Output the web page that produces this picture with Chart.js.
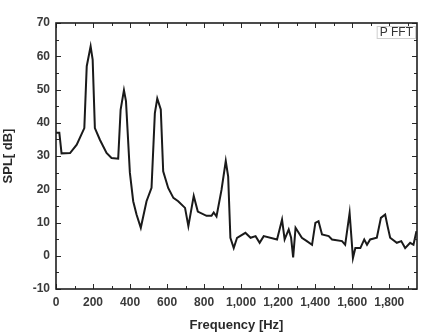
<!DOCTYPE html>
<html>
<head>
<meta charset="utf-8">
<script src="https://cdn.jsdelivr.net/npm/chart.js@4.4.1/dist/chart.umd.min.js"></script>
<style>
  html, body { margin: 0; padding: 0; background: #ffffff; }
  #wrap { width: 428px; height: 336px; }
</style>
</head>
<body>
<div id="wrap"><canvas id="c" width="428" height="336"></canvas></div>
<script>
// ---- Data ----
const frequencyHz = [0, 18, 30, 76, 112, 153, 166, 187, 198, 210, 237, 273, 300, 336, 349, 367, 378, 399, 417, 435,
  458, 489, 516, 534, 547, 566, 579, 606, 634, 660, 697, 715, 744, 766, 813, 840, 852, 867, 894, 917,
  930, 942, 960, 978, 1023, 1051, 1078, 1100, 1122, 1194, 1221, 1235, 1257, 1270, 1281, 1294, 1328, 1355, 1383, 1401,
  1418, 1437, 1473, 1491, 1545, 1562, 1586, 1604, 1617, 1644, 1665, 1680, 1697, 1733, 1755, 1778, 1791, 1805, 1841, 1865,
  1886, 1913, 1931, 1947];
const splDb = [37, 37, 30.8, 30.9, 33.4, 38.4, 57, 63, 59, 38.4, 34.9, 30.9, 29.4, 29.2, 43.9, 49.8, 46.5, 25, 16.4, 12.4,
  8.4, 16.4, 20.4, 42.9, 47.3, 44, 25.4, 20.4, 17.4, 16.4, 14.4, 8.9, 18, 13.3, 12, 12, 13, 11.8, 19.8, 28.5,
  23.8, 5.4, 2.3, 5.4, 6.9, 5.4, 5.9, 3.9, 5.9, 4.9, 10.9, 4.9, 7.9, 5.4, -0.5, 8.4, 5.4, 4.4, 3.3, 9.9,
  10.4, 6.4, 5.9, 4.9, 4.4, 3.3, 12.9, -0.7, 2.3, 2.3, 4.9, 3.3, 4.9, 5.4, 11.4, 12.4, 8.9, 5.4, 3.9, 4.4,
  2.3, 3.9, 3.3, 7.4];
const xTickValues = [0, 200, 400, 600, 800, 1000, 1200, 1400, 1600, 1800];
const xMinorValues = [100, 300, 500, 700, 900, 1100, 1300, 1500, 1700, 1900];
const yTickValues = [-10, 0, 10, 20, 30, 40, 50, 60, 70];
const yMinorValues = [-5, 5, 15, 25, 35, 45, 55, 65];
const seriesLabel = 'P FFT';
const xTitle = 'Frequency [Hz]';
const yTitle = 'SPL[ dB]';

const points = frequencyHz.map((f, i) => ({ x: f, y: splDb[i] }));

// Frame, inward ticks, and the "P FFT" label box
const framePlugin = {
  id: 'frame',
  afterDatasetsDraw(chart) {
    const { ctx, chartArea: a, scales: { x, y } } = chart;
    ctx.save();
    ctx.strokeStyle = '#2a2a2a';
    ctx.lineWidth = 1;
    const tick = (vals, len) => {
      vals.forEach(v => {
        const px = Math.round(x.getPixelForValue(v)) + 0.5;
        ctx.beginPath();
        ctx.moveTo(px, a.bottom); ctx.lineTo(px, a.bottom - len);
        ctx.moveTo(px, a.top); ctx.lineTo(px, a.top + len);
        ctx.stroke();
      });
    };
    const tickY = (vals, len) => {
      vals.forEach(v => {
        const py = Math.round(y.getPixelForValue(v)) + 0.5;
        ctx.beginPath();
        ctx.moveTo(a.left, py); ctx.lineTo(a.left + len, py);
        ctx.moveTo(a.right, py); ctx.lineTo(a.right - len, py);
        ctx.stroke();
      });
    };
    tick(xTickValues, 5); tick(xMinorValues, 3);
    tickY(yTickValues, 5); tickY(yMinorValues, 3);

    ctx.lineWidth = 1.6;
    ctx.strokeStyle = '#1e1e1e';
    ctx.strokeRect(a.left, a.top, a.right - a.left, a.bottom - a.top);

    // label box
    ctx.font = '12px "Liberation Sans", Arial, sans-serif';
    const tw = ctx.measureText(seriesLabel).width;
    const bw = tw + 6, bh = 13;
    const bx = a.right - bw - 1, by = a.top + 3;
    ctx.fillStyle = '#ffffff';
    ctx.fillRect(bx, by, bw, bh);
    ctx.lineWidth = 1;
    ctx.strokeStyle = '#cfcfcf';
    ctx.strokeRect(bx + 0.5, by + 0.5, bw - 1, bh - 1);
    ctx.fillStyle = '#333333';
    ctx.textBaseline = 'middle';
    ctx.textAlign = 'left';
    ctx.fillText(seriesLabel, bx + 3, by + bh / 2 + 0.5);
    ctx.restore();
  }
};

new Chart(document.getElementById('c'), {
  type: 'line',
  data: {
    datasets: [{
      label: seriesLabel,
      data: points,
      borderColor: '#1a1a1a',
      borderWidth: 2,
      pointRadius: 0,
      tension: 0,
      fill: false
    }]
  },
  options: {
    responsive: false,
    animation: false,
    layout: { padding: { top: 23, right: 11, left: 0, bottom: 0 } },
    plugins: { legend: { display: false }, tooltip: { enabled: false } },
    scales: {
      x: {
        type: 'linear',
        min: 0,
        max: 1950,
        afterBuildTicks: (s) => { s.ticks = xTickValues.map(v => ({ value: v })); },
        afterFit: (s) => { s.height = 47; },
        grid: { display: false, drawTicks: false },
        border: { display: false },
        ticks: {
          padding: 6,
          color: '#3a3a3a',
          font: { family: '"Liberation Sans", Arial, sans-serif', size: 12, weight: 'bold' },
          maxRotation: 0,
          autoSkip: false,
          callback: (v) => v.toLocaleString('en-US')
        },
        title: {
          display: true,
          text: xTitle,
          color: '#2a2a2a',
          font: { family: '"Liberation Sans", Arial, sans-serif', size: 13, weight: 'bold' },
          padding: { top: 0, bottom: 3 }
        }
      },
      y: {
        type: 'linear',
        min: -10,
        max: 70,
        afterBuildTicks: (s) => { s.ticks = yTickValues.map(v => ({ value: v })); },
        afterFit: (s) => { s.width = 56; },
        grid: { display: false, drawTicks: false },
        border: { display: false },
        ticks: {
          padding: 6,
          color: '#3a3a3a',
          font: { family: '"Liberation Sans", Arial, sans-serif', size: 12, weight: 'bold' }
        },
        title: {
          display: true,
          text: yTitle,
          color: '#2a2a2a',
          font: { family: '"Liberation Sans", Arial, sans-serif', size: 13, weight: 'bold' },
          padding: { top: 1, bottom: 0 }
        }
      }
    }
  },
  plugins: [framePlugin]
});
</script>
</body>
</html>
